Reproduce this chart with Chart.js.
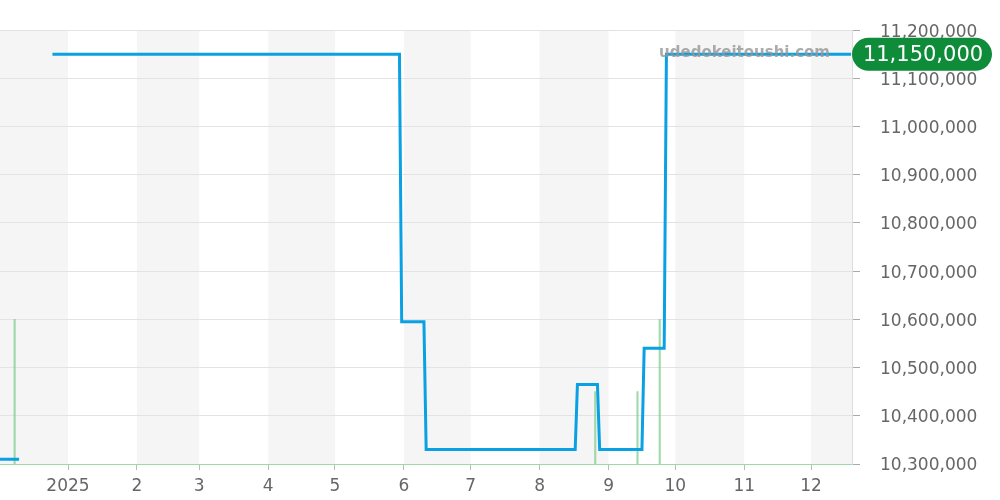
<!DOCTYPE html>
<html>
<head>
<meta charset="utf-8">
<script src="https://cdn.jsdelivr.net/npm/chart.js@4/dist/chart.umd.min.js"></script>
<style>
  html, body { margin: 0; padding: 0; background: #fff; }
  #wrap { width: 1000px; height: 500px; position: relative; }
</style>
</head>
<body>
<div id="wrap"><canvas id="myChart" width="1000" height="500"></canvas></div>
<script>
// price line (null = gap)
const priceDates = ["2024-12-01", "2024-12-10", "2024-12-17", "2024-12-25", "2025-05-30", "2025-05-31",
    "2025-06-10", "2025-06-11", "2025-08-17", "2025-08-18", "2025-08-27", "2025-08-28",
    "2025-09-16", "2025-09-17", "2025-09-26", "2025-09-27", "2025-12-19"];
const priceValues = [10310000, 10310000, null, 11150000, 11150000, 10595000,
    10595000, 10330000, 10330000, 10465000, 10465000, 10330000,
    10330000, 10540000, 10540000, 11150000, 11150000];

// green volume bars
const volumeDates = ["2024-12-08", "2025-08-26", "2025-09-14", "2025-09-24"];
const volumeCounts = [2, 1, 1, 2];

// month ticks
const tickDates = ["2025-01-01", "2025-02-01", "2025-03-01", "2025-04-01", "2025-05-01", "2025-06-01",
    "2025-07-01", "2025-08-01", "2025-09-01", "2025-10-01", "2025-11-01", "2025-12-01"];
const tickLabels = ["2025", "2", "3", "4", "5", "6", "7", "8", "9", "10", "11", "12"];

// shaded months (start, end)
const bandStarts = ["2024-12-01", "2025-02-01", "2025-04-01", "2025-06-01", "2025-08-01", "2025-10-01", "2025-12-01"];
const bandEnds = ["2025-01-01", "2025-03-01", "2025-05-01", "2025-07-01", "2025-09-01", "2025-11-01", "2026-01-01"];

const lastPrice = 11150000;
const siteName = "udedokeitoushi.com";

function dayNum(s) {
    const p = s.split("-").map(Number);
    return (Date.UTC(p[0], p[1] - 1, p[2]) - Date.UTC(2024, 11, 1)) / 86400000;
}

const X_MIN = 0.43, X_MAX = 383.43;
const tickVals = tickDates.map(dayNum);
const fmt = v => Number(v).toLocaleString("en-US");

const bandsPlugin = {
    id: "bands",
    beforeDraw(chart) {
        const { ctx, chartArea, scales } = chart;
        ctx.save();
        ctx.fillStyle = "#f5f5f5";
        for (let i = 0; i < bandStarts.length; i++) {
            let x1 = scales.x.getPixelForValue(dayNum(bandStarts[i]));
            let x2 = scales.x.getPixelForValue(dayNum(bandEnds[i]));
            x1 = Math.max(x1, chartArea.left);
            x2 = Math.min(x2, chartArea.right);
            if (x2 > x1) ctx.fillRect(x1, chartArea.top, x2 - x1, chartArea.bottom - chartArea.top);
        }
        ctx.restore();
    },
    afterDraw(chart) {
        const { ctx, chartArea, scales } = chart;
        const y = scales.y.getPixelForValue(lastPrice);
        ctx.save();
        // watermark
        ctx.font = "bold 15px 'DejaVu Sans'";
        ctx.fillStyle = "rgba(150,150,150,0.8)";
        ctx.textAlign = "right";
        ctx.textBaseline = "middle";
        ctx.fillText(siteName, 830, y - 1);
        // last price pill
        const x0 = chartArea.right, w = 140, h = 33, r = 16.5;
        ctx.fillStyle = "#0f8c3a";
        ctx.beginPath();
        ctx.roundRect(x0, y - h / 2, w, h, r);
        ctx.fill();
        ctx.fillStyle = "#fff";
        ctx.font = "21px 'DejaVu Sans'";
        ctx.textAlign = "center";
        ctx.fillText(fmt(lastPrice), x0 + w / 2 + 1, y + 1);
        ctx.restore();
    }
};

const lineData = priceDates.map((d, i) => ({ x: dayNum(d), y: priceValues[i] }));
const barData = volumeDates.map((d, i) => ({ x: dayNum(d), y: volumeCounts[i] }));

new Chart("myChart", {
    type: "line",
    plugins: [bandsPlugin],
    data: {
        datasets: [{
            type: "bar",
            data: barData,
            yAxisID: "y2",
            backgroundColor: "rgba(130,205,145,0.75)",
            barThickness: 1.5,
            order: 2
        }, {
            type: "line",
            data: lineData,
            yAxisID: "y",
            borderColor: "#09a0e4",
            borderWidth: 3,
            pointRadius: 0,
            spanGaps: false,
            tension: 0,
            order: 1
        }]
    },
    options: {
        responsive: false,
        animation: false,
        layout: { padding: { top: 30, left: 0, right: 0, bottom: 0 } },
        plugins: { legend: { display: false }, tooltip: { enabled: false } },
        scales: {
            x: {
                type: "linear",
                min: X_MIN,
                max: X_MAX,
                offset: false,
                afterBuildTicks: scale => { scale.ticks = tickVals.map(v => ({ value: v })); },
                afterFit: scale => { scale.height = 36; },
                ticks: {
                    autoSkip: false,
                    maxRotation: 0,
                    padding: 6,
                    color: "#666",
                    font: { family: "DejaVu Sans", size: 17 },
                    callback: v => tickLabels[tickVals.indexOf(v)]
                },
                grid: { drawOnChartArea: false, offset: false, tickLength: 6, color: "#bbb" },
                border: { display: true, color: "#9fd9a8", dash: [1, 1], width: 1 }
            },
            y: {
                position: "right",
                min: 10300000,
                max: 11200000,
                afterFit: scale => { scale.width = 148; },
                ticks: {
                    stepSize: 100000,
                    padding: 20,
                    labelOffset: 2,
                    color: "#666",
                    font: { family: "DejaVu Sans", size: 17 },
                    callback: v => fmt(v)
                },
                grid: { color: "#e3e3e3", tickLength: 8, tickColor: "#aaa" },
                border: { display: true, color: "#ddd" }
            },
            y2: {
                display: false,
                min: 0,
                max: 6
            }
        }
    }
});
</script>
</body>
</html>
